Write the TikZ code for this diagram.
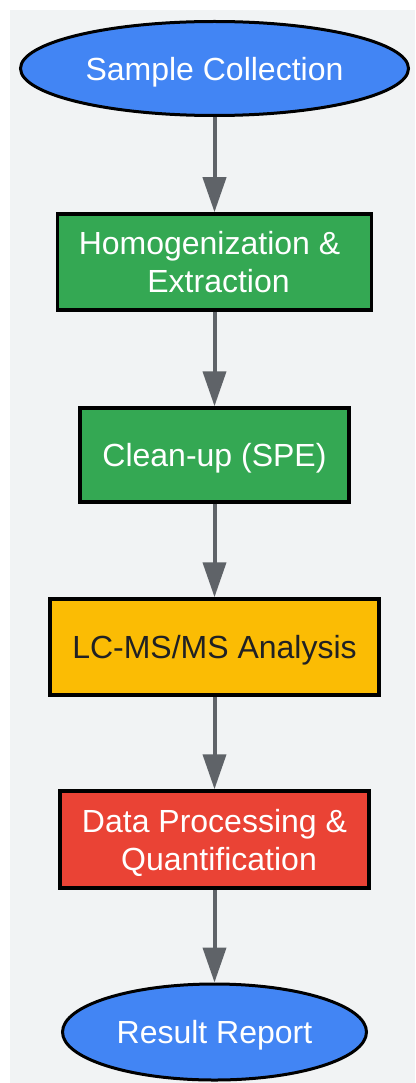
\documentclass[tikz,border=0pt]{standalone}
\usepackage{fontspec}
\setmainfont{Liberation Sans}
\usetikzlibrary{shapes.geometric,arrows.meta}
\definecolor{bgc}{HTML}{F1F3F4}
\definecolor{gblue}{HTML}{4285F4}
\definecolor{ggreen}{HTML}{34A853}
\definecolor{gyellow}{HTML}{FBBC04}
\definecolor{gred}{HTML}{EA4335}
\definecolor{ggray}{HTML}{5F6368}
\definecolor{gdark}{HTML}{202124}
\tikzset{
  base/.style={draw=black, inner sep=0pt, font=\fontsize{32}{38}\selectfont, align=center, text=white, text depth=0pt},
  term/.style={base, ellipse, line width=3pt, fill=gblue},
  stepbox/.style={base, rectangle, line width=3.5pt},
  flow/.style={draw=ggray, line width=4pt, -{Triangle[length=35pt,width=23pt]}}
}
\begin{document}
\begin{tikzpicture}[x=1pt,y=-1pt]
\useasboundingbox (0,0) rectangle (415,1083);
\fill[bgc] (10,10) rectangle (415,1083);
\node[term, minimum width=388pt, minimum height=94pt] (s) at (214.5,68.5) {Sample Collection};
\node[stepbox, fill=ggreen, minimum width=314pt, minimum height=96pt] (h) at (214.5,262) {Homogenization \&\hbox to 10pt{}\\\hbox to 8pt{}Extraction};
\node[stepbox, fill=ggreen, minimum width=269pt, minimum height=94pt] (c) at (214.5,455) {Clean-up (SPE)};
\node[stepbox, fill=gyellow, text=gdark, minimum width=329pt, minimum height=96pt] (l) at (214.5,647) {LC-MS/MS Analysis};
\node[stepbox, fill=gred, minimum width=309pt, minimum height=97pt] (d) at (214.5,839.5) {Data Processing \&\\\hbox to 9pt{}Quantification};
\node[term, minimum width=304pt, minimum height=96pt] (r) at (214.5,1032) {Result Report};
\draw[flow] (s) -- (h);
\draw[flow] (h) -- (c);
\draw[flow] (c) -- (l);
\draw[flow] (l) -- (d);
\draw[flow] (d) -- (r);
\end{tikzpicture}
\end{document}
